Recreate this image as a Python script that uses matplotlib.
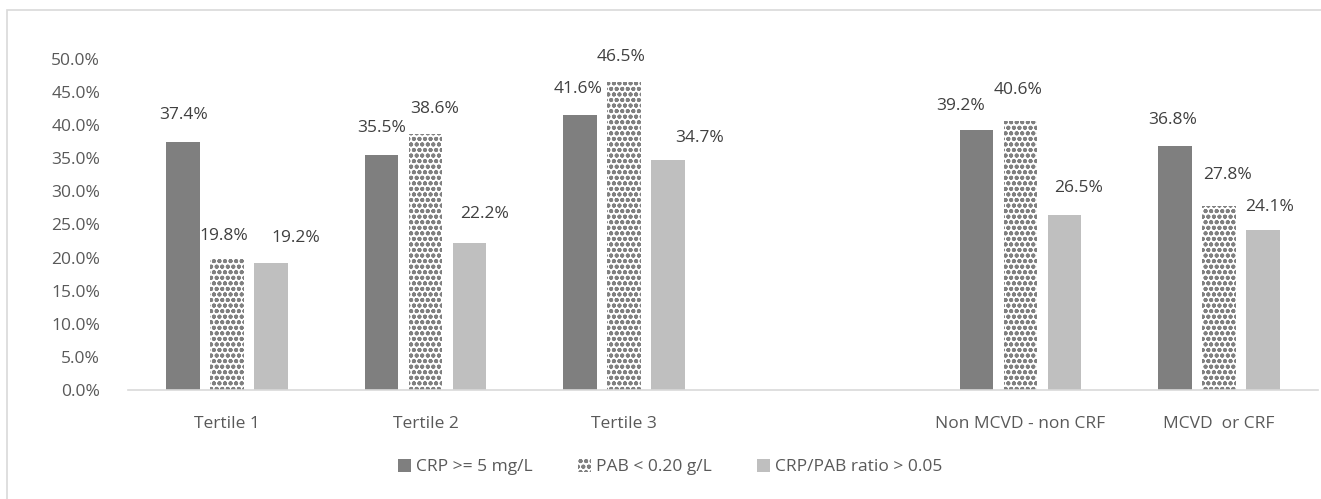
import numpy as np
import matplotlib.pyplot as plt
from matplotlib.patches import Rectangle

categories = ["Tertile 1", "Tertile 2", "Tertile 3", "", "Non MCVD - non CRF", "MCVD  or CRF"]
crp = [37.4, 35.5, 41.6, np.nan, 39.2, 36.8]
pab = [19.8, 38.6, 46.5, np.nan, 40.6, 27.8]
ratio = [19.2, 22.2, 34.7, np.nan, 26.5, 24.1]
series_names = ["CRP >= 5 mg/L", "PAB < 0.20 g/L", "CRP/PAB ratio > 0.05"]
yticks = [0, 5, 10, 15, 20, 25, 30, 35, 40, 45, 50]

# label nudges (pixels) to mimic the hand-placed data labels
label_nudge = [
    [(0, 27), (0, 27), (-2, 26), None, (-16, 24), (-2, 26)],
    [(-3, 23), (9, 25), (-3, 25), None, (-2, 31), (9, 31)],
    [(25, 25), (15, 29), (32, 22), None, (14, 27), (7, 23)],
]

plt.rcParams['font.family'] = ['Open Sans', 'DejaVu Sans']
plt.rcParams['hatch.linewidth'] = 1.3

fig = plt.figure(figsize=(13.21, 4.99), dpi=100)
ax = fig.add_axes([128 / 1321, 109 / 499, 1190 / 1321, 331 / 499])

# outer chart frame (right and bottom edges fall outside the image)
fig.patches.append(Rectangle((7 / 1321, -0.1), 1.2, 0.1 + 489 / 499,
                             transform=fig.transFigure, fill=False,
                             edgecolor='#d9d9d9', linewidth=1.2))

x = np.arange(len(categories))
w = 0.171
off = 0.222
b1 = ax.bar(x - off, crp, w, color='#7f7f7f', label=series_names[0])
b2 = ax.bar(x, pab, w, color='white', edgecolor='#808080', linewidth=0,
            hatch='ooo', label=series_names[1])
b3 = ax.bar(x + off, ratio, w, color='#bfbfbf', label=series_names[2])

for s, bars in enumerate([b1, b2, b3]):
    for i, r in enumerate(bars):
        h = r.get_height()
        if np.isnan(h):
            continue
        dx, dy = label_nudge[s][i]
        ax.annotate(f"{h:.1f}%", (r.get_x() + r.get_width() / 2, h),
                    xytext=(dx, dy), textcoords='offset pixels',
                    ha='center', va='center', fontsize=12.5,
                    color='#404040', annotation_clip=False)

ax.set_xlim(-0.5, len(categories) - 0.5)
ax.set_ylim(0, 50)
ax.set_yticks(yticks)
ax.set_yticklabels([f"{v:.1f}%" for v in yticks])
ax.set_xticks(x)
ax.set_xticklabels(categories)
ax.tick_params(axis='both', length=0, labelsize=12.5, colors='#595959')
ax.tick_params(axis='y', pad=20)
ax.tick_params(axis='x', pad=19)
for sp in ['top', 'right', 'left']:
    ax.spines[sp].set_visible(False)
ax.spines['bottom'].set_color('#d9d9d9')
ax.spines['bottom'].set_linewidth(1.2)

fig.legend(handles=[b1, b2, b3], loc='center', bbox_to_anchor=(670 / 1321, 32 / 499),
           ncol=3, frameon=False, fontsize=12.5, labelcolor='#595959',
           handlelength=0.75, handleheight=0.75, handletextpad=0.3, columnspacing=2.6)

plt.savefig('out.png', dpi=100)
